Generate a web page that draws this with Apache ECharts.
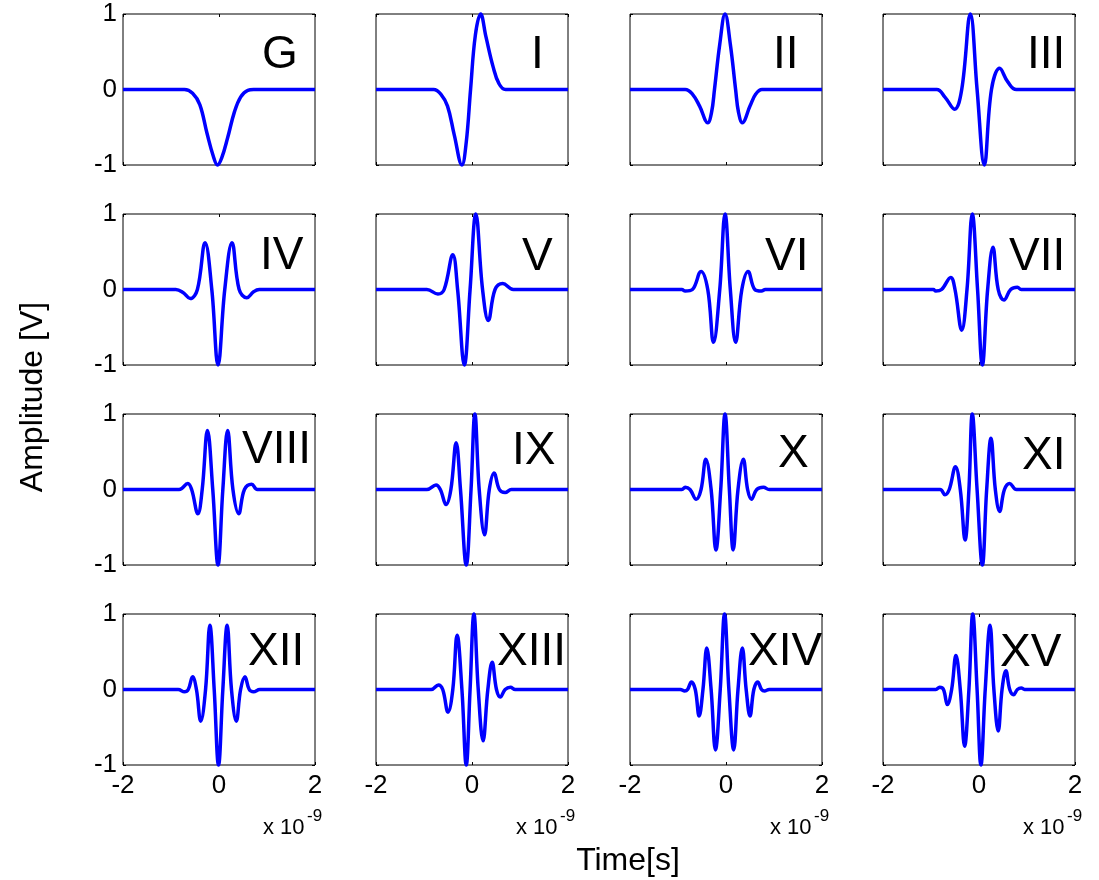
<!DOCTYPE html>
<html>
<head>
<meta charset="utf-8">
<script src="https://cdn.jsdelivr.net/npm/echarts@6/dist/echarts.min.js"></script>
<style>
html, body { margin: 0; padding: 0; background: #fff; }
#chart { width: 1099px; height: 880px; }
</style>
</head>
<body>
<div id="chart"></div>
<script>
// panel names, left-to-right, top-to-bottom
const panelNames = ['G', 'I', 'II', 'III', 'IV', 'V', 'VI', 'VII',
    'VIII', 'IX', 'X', 'XI', 'XII', 'XIII', 'XIV', 'XV'];

// pulses: [time (ns), amplitude (V)]
const pulseG = [[-2, 0], [-0.72, 0], [-0.55, -0.05], [-0.4, -0.2], [-0.25, -0.58], [-0.12, -0.88], [-0.03, -1],
    [0.06, -0.9], [0.18, -0.64], [0.32, -0.3], [0.45, -0.1], [0.6, -0.01], [0.72, 0], [2, 0]];
const pulseI = [[-2, 0], [-0.8, 0], [-0.65, -0.06], [-0.51, -0.22], [-0.37, -0.6], [-0.21, -1], [-0.12, -0.7],
    [-0.03, 0], [0.07, 0.72], [0.18, 1], [0.29, 0.7], [0.44, 0.3], [0.56, 0.08], [0.7, 0], [2, 0]];
const pulseII = [[-2, 0], [-0.85, 0], [-0.7, -0.06], [-0.55, -0.22], [-0.38, -0.44], [-0.3, -0.3], [-0.24, 0],
    [-0.13, 0.6], [-0.02, 1], [0.09, 0.6], [0.2, 0], [0.26, -0.3], [0.34, -0.44], [0.5, -0.22], [0.62, -0.06], [0.75, 0], [2, 0]];
const pulseIII = [[-2, 0], [-0.88, 0], [-0.71, -0.1], [-0.51, -0.26], [-0.36, 0], [-0.18, 1], [-0.04, 0],
    [0.11, -1], [0.26, 0], [0.43, 0.28], [0.6, 0.1], [0.78, 0], [2, 0]];
const pulseIV = [[-2, 0], [-0.9, 0], [-0.75, -0.04], [-0.6, -0.12], [-0.45, 0], [-0.29, 0.62], [-0.15, 0],
    [-0.02, -1], [0.12, 0], [0.27, 0.62], [0.42, 0], [0.58, -0.11], [0.72, -0.03], [0.84, 0], [2, 0]];
const pulseV = [[-2, 0], [-0.94, 0], [-0.71, -0.06], [-0.58, 0], [-0.4, 0.46], [-0.3, 0], [-0.16, -1], [-0.04, 0],
    [0.08, 1], [0.22, 0], [0.34, -0.41], [0.48, 0], [0.64, 0.08], [0.86, 0], [2, 0]];
const pulseVI = [[-2, 0], [-0.92, 0], [-0.85, -0.02], [-0.7, 0], [-0.52, 0.24], [-0.38, 0], [-0.26, -0.7], [-0.13, 0],
    [-0.02, 1], [0.09, 0], [0.2, -0.7], [0.33, 0], [0.46, 0.24], [0.6, 0], [0.74, -0.02], [0.82, 0], [2, 0]];
const pulseVII = [[-2, 0], [-0.95, 0], [-0.9, -0.02], [-0.78, 0], [-0.59, 0.16], [-0.5, 0], [-0.36, -0.54], [-0.25, 0],
    [-0.14, 1], [-0.03, 0], [0.07, -1], [0.18, 0], [0.29, 0.56], [0.4, 0], [0.52, -0.14], [0.66, 0], [0.8, 0.03], [0.88, 0], [2, 0]];
const pulseVIII = [[-2, 0], [-0.83, 0], [-0.65, 0.08], [-0.57, 0], [-0.44, -0.32], [-0.35, 0], [-0.24, 0.78], [-0.13, 0],
    [-0.02, -1], [0.08, 0], [0.18, 0.78], [0.29, 0], [0.41, -0.32], [0.53, 0], [0.68, 0.07], [0.8, 0], [2, 0]];
const pulseIX = [[-2, 0], [-0.94, 0], [-0.75, 0.06], [-0.66, 0], [-0.54, -0.2], [-0.44, 0], [-0.33, 0.62], [-0.24, 0],
    [-0.12, -1], [-0.02, 0], [0.06, 1], [0.15, 0], [0.26, -0.6], [0.36, 0], [0.46, 0.22], [0.57, 0], [0.69, -0.04], [0.82, 0], [2, 0]];
const pulseX = [[-2, 0], [-0.92, 0], [-0.85, 0.03], [-0.75, 0], [-0.62, -0.13], [-0.52, 0], [-0.42, 0.4], [-0.31, 0],
    [-0.21, -0.8], [-0.11, 0], [-0.02, 1], [0.07, 0], [0.15, -0.8], [0.25, 0], [0.36, 0.4], [0.45, 0], [0.53, -0.13],
    [0.64, 0], [0.78, 0.03], [0.9, 0], [2, 0]];
const pulseXI = [[-2, 0], [-0.81, 0], [-0.71, -0.07], [-0.62, 0], [-0.49, 0.3], [-0.39, 0], [-0.29, -0.67], [-0.21, 0],
    [-0.14, 1], [-0.04, 0], [0.07, -1], [0.16, 0], [0.25, 0.68], [0.34, 0], [0.43, -0.29], [0.53, 0], [0.64, 0.08], [0.78, 0], [2, 0]];
const pulseXII = [[-2, 0], [-0.85, 0], [-0.72, -0.03], [-0.64, 0], [-0.55, 0.17], [-0.47, 0], [-0.38, -0.42], [-0.28, 0],
    [-0.19, 0.85], [-0.1, 0], [-0.01, -1], [0.08, 0], [0.17, 0.85], [0.26, 0], [0.36, -0.42], [0.45, 0], [0.54, 0.17],
    [0.63, 0], [0.72, -0.03], [0.85, 0], [2, 0]];
const pulseXIII = [[-2, 0], [-0.85, 0], [-0.7, 0.06], [-0.61, 0], [-0.5, -0.3], [-0.4, 0], [-0.31, 0.72], [-0.21, 0],
    [-0.12, -1], [-0.04, 0], [0.04, 1], [0.13, 0], [0.23, -0.68], [0.33, 0], [0.42, 0.36], [0.51, 0], [0.59, -0.1],
    [0.69, 0], [0.8, 0.03], [0.9, 0], [2, 0]];
const pulseXIV = [[-2, 0], [-0.95, 0], [-0.86, -0.02], [-0.8, 0], [-0.72, 0.1], [-0.64, 0], [-0.56, -0.35], [-0.48, 0],
    [-0.4, 0.55], [-0.31, 0], [-0.22, -0.8], [-0.12, 0], [-0.03, 1], [0.06, 0], [0.16, -0.8], [0.25, 0], [0.34, 0.55],
    [0.42, 0], [0.5, -0.35], [0.58, 0], [0.66, 0.1], [0.74, 0], [0.8, -0.02], [0.9, 0], [2, 0]];
const pulseXV = [[-2, 0], [-0.9, 0], [-0.82, 0.03], [-0.74, 0], [-0.66, -0.2], [-0.57, 0], [-0.48, 0.45], [-0.39, 0],
    [-0.3, -0.75], [-0.21, 0], [-0.13, 1], [-0.04, 0], [0.04, -1], [0.13, 0], [0.23, 0.85], [0.31, 0], [0.4, -0.55],
    [0.48, 0], [0.56, 0.25], [0.64, 0], [0.72, -0.07], [0.8, 0], [0.88, 0.02], [0.95, 0], [2, 0]];

const pulses = [pulseG, pulseI, pulseII, pulseIII, pulseIV, pulseV, pulseVI, pulseVII,
    pulseVIII, pulseIX, pulseX, pulseXI, pulseXII, pulseXIII, pulseXIV, pulseXV];

const timeRange = [-2, 2];
const ampRange = [-1, 1];
const timeStep = 2;
const ampStep = 1;
const timeExponent = '-9';

// layout
const colLeft = [123, 376, 630, 883];
const rowTop = [14, 214, 414, 614];
const panelW = 192;
const panelH = 151;
// name label offsets inside each panel [dx, dy]
const nameOffset = [
    [139, 18], [155, 18], [143, 18], [144, 18],
    [137, 19], [146, 20], [135, 20], [126, 20],
    [119, 13], [136, 14], [148, 17], [139, 19],
    [125, 15], [121, 15], [118, 15], [117, 16]
];

const FONT = '"Liberation Sans", Arial, Helvetica, sans-serif';
const chart = echarts.init(document.getElementById('chart'));

const grid = [];
const xAxis = [];
const yAxis = [];
const series = [];
const graphic = [];

const tick = { show: true, inside: true, length: 3, lineStyle: { color: '#000', width: 1 } };
const noLine = { show: false, onZero: false };

pulses.forEach((pulse, i) => {
    const row = Math.floor(i / 4);
    const col = i % 4;
    grid.push({
        left: colLeft[col], top: rowTop[row], width: panelW, height: panelH,
        show: true, borderColor: '#000', borderWidth: 1, backgroundColor: '#fff'
    });
    // bottom / left axes carry the labels
    xAxis.push({
        type: 'value', gridIndex: i, position: 'bottom', min: timeRange[0], max: timeRange[1], interval: timeStep,
        axisLine: noLine, axisTick: tick, splitLine: { show: false },
        axisLabel: { show: row === 3, color: '#000', fontFamily: FONT, fontSize: 26, margin: 8 }
    });
    yAxis.push({
        type: 'value', gridIndex: i, position: 'left', min: ampRange[0], max: ampRange[1], interval: ampStep,
        axisLine: noLine, axisTick: tick, splitLine: { show: false },
        axisLabel: { show: col === 0, color: '#000', fontFamily: FONT, fontSize: 26, margin: 6 }
    });
    series.push({
        type: 'line', xAxisIndex: i, yAxisIndex: i, data: pulse,
        showSymbol: false, smooth: 0.4, clip: false, z: 3,
        lineStyle: { color: '#0000ff', width: 3.5 }
    });
    graphic.push({
        type: 'text', x: colLeft[col] + nameOffset[i][0], y: rowTop[row] + nameOffset[i][1], z: 10,
        style: { text: panelNames[i], font: '46px ' + FONT, fill: '#000', align: 'left', verticalAlign: 'top' }
    });
});

// mirrored ticks on top / right of each box
pulses.forEach((pulse, i) => {
    xAxis.push({
        type: 'value', gridIndex: i, position: 'top', min: timeRange[0], max: timeRange[1], interval: timeStep,
        axisLine: noLine, axisTick: tick, axisLabel: { show: false }, splitLine: { show: false }
    });
    yAxis.push({
        type: 'value', gridIndex: i, position: 'right', min: ampRange[0], max: ampRange[1], interval: ampStep,
        axisLine: noLine, axisTick: tick, axisLabel: { show: false }, splitLine: { show: false }
    });
});

// "x 10^-9" under each bottom panel
colLeft.forEach((left) => {
    const right = left + panelW;
    graphic.push({
        type: 'text', x: right - 52, y: 817,
        style: { text: 'x 10', font: '22px ' + FONT, fill: '#000', align: 'left', verticalAlign: 'top' }
    });
    graphic.push({
        type: 'text', x: right - 8, y: 808,
        style: { text: timeExponent, font: '17px ' + FONT, fill: '#000', align: 'left', verticalAlign: 'top' }
    });
});

graphic.push({
    type: 'text', x: 33, y: 397, rotation: Math.PI / 2,
    style: { text: 'Amplitude [V]', font: '32px ' + FONT, fill: '#000', align: 'center', verticalAlign: 'middle' }
});
graphic.push({
    type: 'text', x: 628, y: 861,
    style: { text: 'Time[s]', font: '32px ' + FONT, fill: '#000', align: 'center', verticalAlign: 'middle' }
});

chart.setOption({
    animation: false,
    backgroundColor: '#fff',
    grid: grid,
    xAxis: xAxis,
    yAxis: yAxis,
    series: series,
    graphic: graphic
});
</script>
</body>
</html>
